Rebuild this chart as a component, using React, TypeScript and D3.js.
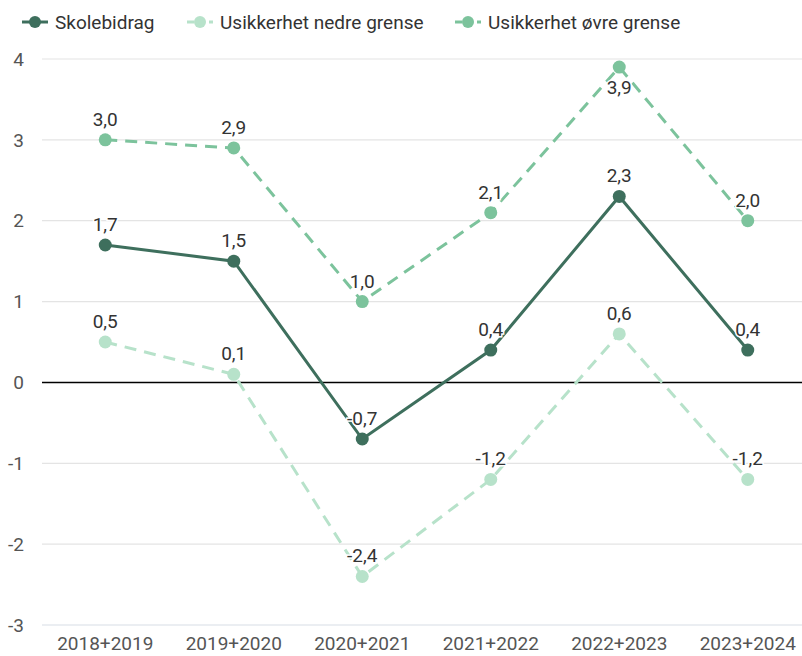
import React, { useEffect, useRef } from 'react';
import * as d3 from 'd3';

const categories = ['2018+2019', '2019+2020', '2020+2021', '2021+2022', '2022+2023', '2023+2024'];
const skolebidrag = [1.7, 1.5, -0.7, 0.4, 2.3, 0.4];
const nedre = [0.5, 0.1, -2.4, -1.2, 0.6, -1.2];
const ovre = [3.0, 2.9, 1.0, 2.1, 3.9, 2.0];
const yTicks = [4, 3, 2, 1, 0, -1, -2, -3];

const seriesList = [
  { name: 'Skolebidrag', values: skolebidrag, color: '#3e6f5d', dash: null },
  { name: 'Usikkerhet nedre grense', values: nedre, color: '#b7e2ca', dash: '12,8' },
  { name: 'Usikkerhet øvre grense', values: ovre, color: '#7cc39c', dash: '12,8' },
];

export default function App() {
  const ref = useRef<SVGSVGElement>(null);

  useEffect(() => {
    const width = 802;
    const svg = d3.select(ref.current);
    svg.selectAll('*').remove();

    const font = 'Roboto, sans-serif';
    const fs = 19;

    // échelles
    const x = d3.scalePoint<string>()
      .domain(categories)
      .range([41, 812])
      .padding(0.5);

    const y = d3.scaleLinear()
      .domain([-3, 4])
      .range([625, 59]);

    // grille
    svg.append('g')
      .selectAll('line')
      .data(yTicks)
      .enter()
      .append('line')
      .attr('x1', 42)
      .attr('x2', width)
      .attr('y1', d => y(d))
      .attr('y2', d => y(d))
      .attr('stroke', d => (d === 0 ? '#000' : (d === -3 ? '#d8dde6' : '#e4e4e4')))
      .attr('stroke-width', d => (d === 0 ? 1.5 : 1.2));

    // étiquettes axe y
    svg.append('g')
      .selectAll('text')
      .data(yTicks)
      .enter()
      .append('text')
      .attr('x', 24)
      .attr('y', d => y(d))
      .attr('dy', '0.35em')
      .attr('text-anchor', 'end')
      .attr('font-family', font)
      .attr('font-size', fs)
      .attr('fill', '#555')
      .text(d => String(d));

    // étiquettes axe x
    svg.append('g')
      .selectAll('text')
      .data(categories)
      .enter()
      .append('text')
      .attr('x', d => x(d)!)
      .attr('y', 650)
      .attr('text-anchor', 'middle')
      .attr('font-family', font)
      .attr('font-size', fs)
      .attr('fill', '#555')
      .text(d => d);

    const line = d3.line<number>()
      .x((_, i) => x(categories[i])!)
      .y(d => y(d));

    // séries (bornes d'abord, puis skolebidrag)
    [seriesList[1], seriesList[2], seriesList[0]].forEach(s => {
      const g = svg.append('g');
      g.append('path')
        .datum(s.values)
        .attr('d', line)
        .attr('fill', 'none')
        .attr('stroke', s.color)
        .attr('stroke-width', 3)
        .attr('stroke-dasharray', s.dash);
      g.selectAll('circle')
        .data(s.values)
        .enter()
        .append('circle')
        .attr('cx', (_, i) => x(categories[i])!)
        .attr('cy', d => y(d))
        .attr('r', 6.5)
        .attr('fill', s.color);
    });

    // étiquettes de valeurs
    seriesList.forEach(s => {
      svg.append('g')
        .selectAll('text')
        .data(s.values)
        .enter()
        .append('text')
        .attr('x', (_, i) => x(categories[i])!)
        .attr('y', d => (y(d) < 80 ? y(d) + 27 : y(d) - 14))
        .attr('text-anchor', 'middle')
        .attr('font-family', font)
        .attr('font-size', fs)
        .attr('fill', '#333')
        .attr('stroke', '#fff')
        .attr('stroke-width', 3)
        .attr('paint-order', 'stroke')
        .text(d => d.toFixed(1).replace('.', ','));
    });

    // légende
    const legendX = [22, 187, 455];
    const legend = svg.append('g');
    seriesList.forEach((s, i) => {
      const lg = legend.append('g').attr('transform', `translate(${legendX[i]},22)`);
      lg.append('line')
        .attr('x1', 0)
        .attr('x2', 26)
        .attr('y1', 0)
        .attr('y2', 0)
        .attr('stroke', s.color)
        .attr('stroke-width', 3)
        .attr('stroke-dasharray', s.dash ? '7,4' : null);
      lg.append('circle')
        .attr('cx', 13)
        .attr('cy', 0)
        .attr('r', 6)
        .attr('fill', s.color);
      lg.append('text')
        .attr('x', 33)
        .attr('y', 0)
        .attr('dy', '0.35em')
        .attr('font-family', font)
        .attr('font-size', fs)
        .attr('fill', '#333')
        .text(s.name);
    });
  }, []);

  return (
    <svg
      ref={ref}
      width={802}
      height={656}
      style={{ position: 'absolute', left: 0, top: 0, background: '#fff' }}
    />
  );
}
